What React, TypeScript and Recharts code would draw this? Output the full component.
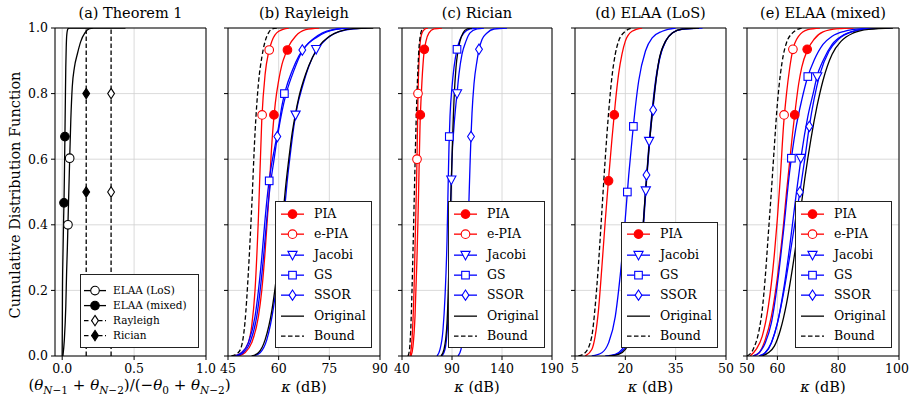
import { ComposedChart, Line, XAxis, YAxis, CartesianGrid, ReferenceLine } from 'recharts';

const FONT = '"DejaVu Serif", "Liberation Serif", serif';
const RED = '#ff0000';
const BLUE = '#0000ff';
const BLACK = '#000000';

// shared y axis (CDF)
const cdfTicks = [0, 0.2, 0.4, 0.6, 0.8, 1.0];

// (a) Theorem 1 — ratio on x, CDF on y
const thmTicks = [0, 0.5, 1.0];
const thmLoS = [[0.005, 0], [0.015, 0.05], [0.025, 0.15], [0.031, 0.26], [0.036, 0.33], [0.04, 0.4], [0.046, 0.5], [0.052, 0.6], [0.06, 0.72], [0.07, 0.82], [0.085, 0.88], [0.105, 0.92], [0.13, 0.96], [0.158, 0.985], [0.19, 0.998], [0.22, 1], [0.44, 1]];
const thmLoSMarks = [[0.04, 0.4], [0.052, 0.603]];
const thmMixed = [[0, 0], [0.002, 0.2], [0.005, 0.3], [0.01, 0.42], [0.0125, 0.467], [0.016, 0.57], [0.019, 0.67], [0.022, 0.78], [0.025, 0.88], [0.028, 0.94], [0.032, 0.98], [0.04, 0.997], [0.05, 1], [0.2, 1]];
const thmMixedMarks = [[0.0125, 0.467], [0.019, 0.669]];
const thmRayleigh = [[0.34, 0], [0.34, 1]];
const thmRayleighMarks = [[0.34, 0.5], [0.34, 0.8]];
const thmRician = [[0.167, 0], [0.167, 1]];
const thmRicianMarks = [[0.167, 0.5], [0.167, 0.8]];

// (b) Rayleigh
const rayTicks = [45, 60, 75, 90];
const rayPIA = [[48, 0], [50, 0.01], [52, 0.04], [54, 0.12], [55, 0.2], [56, 0.32], [57, 0.47], [58, 0.65], [59, 0.77], [60, 0.84], [61, 0.89], [62, 0.92], [63, 0.945], [65, 0.975], [68, 0.995], [72, 1]];
const rayEPIA = [[47, 0], [49, 0.01], [51, 0.04], [52, 0.09], [53, 0.2], [54, 0.42], [55, 0.72], [56, 0.86], [57, 0.925], [58, 0.96], [60, 0.99], [63, 1]];
const rayJacobi = [[52.5, 0], [54.5, 0.01], [56.5, 0.05], [58.5, 0.15], [60.5, 0.32], [61.5, 0.42], [62.5, 0.53], [63.5, 0.62], [64.5, 0.7], [65.5, 0.76], [67, 0.82], [69, 0.885], [71, 0.93], [73, 0.955], [76, 0.98], [80, 0.994], [86, 1]];
const rayGS = [[47, 0], [49, 0.01], [51, 0.04], [53, 0.12], [55, 0.3], [56, 0.42], [57, 0.52], [58, 0.59], [59, 0.645], [60, 0.7], [61, 0.765], [62, 0.81], [64, 0.87], [66, 0.915], [68, 0.945], [70, 0.965], [73, 0.985], [76, 0.995], [80, 1]];
const raySSOR = [[47.5, 0], [49.5, 0.01], [51.5, 0.04], [53.5, 0.12], [55.5, 0.3], [56.5, 0.42], [57.5, 0.52], [58.5, 0.59], [59.5, 0.66], [60.5, 0.72], [61.5, 0.77], [62.5, 0.81], [64.5, 0.87], [67, 0.93], [69, 0.955], [71, 0.97], [74, 0.987], [77, 0.996], [81, 1]];
const rayOrig = [[52, 0], [54, 0.01], [56, 0.05], [58, 0.14], [60, 0.3], [61, 0.4], [62, 0.51], [63, 0.6], [64, 0.68], [65, 0.74], [66, 0.79], [68, 0.86], [70, 0.91], [72, 0.945], [75, 0.975], [78, 0.99], [82, 0.998], [88, 1]];
const rayBound = [[46, 0], [48, 0.01], [49, 0.03], [50, 0.1], [51, 0.25], [52, 0.45], [53, 0.68], [54, 0.83], [55, 0.91], [56, 0.96], [57, 0.985], [58, 0.997], [60, 1]];
const rayPIAMarks = [[58.6, 0.735], [62.6, 0.933]];
const rayEPIAMarks = [[55.1, 0.735], [57.2, 0.933]];
const rayJacobiMarks = [[65.0, 0.735], [71.1, 0.935]];
const rayGSMarks = [[57.2, 0.534], [61.7, 0.8]];
const raySSORMarks = [[59.6, 0.669], [67.0, 0.933]];

// (c) Rician
const ricTicks = [40, 90, 140, 190];
const ricPIA = [[49, 0], [51, 0.03], [53, 0.12], [55, 0.3], [56, 0.42], [57, 0.56], [58, 0.7], [59, 0.78], [60, 0.84], [62, 0.925], [64, 0.96], [67, 0.985], [72, 0.997], [80, 1]];
const ricEPIA = [[48, 0], [50, 0.05], [52, 0.2], [53, 0.33], [54, 0.46], [55, 0.6], [56, 0.8], [57, 0.9], [58, 0.95], [60, 0.985], [63, 0.997], [66, 1]];
const ricJacobi = [[80, 0], [83, 0.02], [86, 0.12], [88, 0.35], [89, 0.5], [90, 0.6], [92, 0.7], [94, 0.77], [95, 0.8], [97, 0.86], [100, 0.92], [104, 0.96], [108, 0.985], [115, 0.997], [122, 1]];
const ricGS = [[75, 0], [78, 0.02], [81, 0.08], [83, 0.18], [85, 0.35], [86, 0.5], [87, 0.64], [88, 0.73], [90, 0.82], [92, 0.88], [95, 0.935], [98, 0.965], [102, 0.985], [108, 0.997], [115, 1]];
const ricSSOR = [[96, 0], [99, 0.02], [102, 0.1], [104, 0.22], [106, 0.38], [108, 0.58], [109, 0.67], [110, 0.74], [112, 0.83], [115, 0.9], [117, 0.935], [120, 0.965], [125, 0.985], [132, 0.997], [145, 1]];
const ricOrig = [[79, 0], [82, 0.02], [85, 0.1], [87, 0.28], [88, 0.4], [89, 0.5], [90, 0.6], [91, 0.7], [92, 0.78], [94, 0.88], [96, 0.93], [98, 0.96], [101, 0.985], [105, 0.997], [110, 1]];
const ricBound = [[46, 0], [47.5, 0.02], [49, 0.1], [50, 0.2], [51, 0.32], [52, 0.45], [53, 0.58], [54, 0.7], [55, 0.8], [56, 0.88], [57, 0.94], [58, 0.97], [60, 0.995], [62, 1]];
const ricPIAMarks = [[58.3, 0.735], [62.3, 0.935]];
const ricEPIAMarks = [[55.0, 0.6], [56.0, 0.8]];
const ricJacobiMarks = [[89.3, 0.537], [95.0, 0.8]];
const ricGSMarks = [[87.3, 0.669], [95.0, 0.935]];
const ricSSORMarks = [[109.0, 0.669], [117.0, 0.935]];

// (d) ELAA (LoS)
const losTicks = [5, 20, 35, 50];
const losPIA = [[8, 0], [10, 0.02], [11, 0.06], [12, 0.14], [13, 0.27], [14, 0.41], [15, 0.54], [16, 0.66], [17, 0.77], [18, 0.86], [19, 0.92], [20, 0.96], [22, 0.99], [25, 1]];
const losJacobi = [[14, 0], [17, 0.005], [19, 0.02], [21, 0.06], [23, 0.14], [24, 0.23], [25, 0.36], [26, 0.5], [27, 0.64], [28, 0.75], [29, 0.84], [30, 0.9], [32, 0.96], [34, 0.985], [37, 0.997], [42, 1]];
const losGS = [[10, 0], [13, 0.01], [15, 0.04], [17, 0.12], [18, 0.2], [19, 0.3], [20, 0.42], [21, 0.55], [22, 0.66], [23, 0.76], [24, 0.84], [26, 0.93], [28, 0.97], [31, 0.99], [35, 1]];
const losSSOR = [[14.5, 0], [17.5, 0.005], [19.5, 0.02], [21.5, 0.06], [23.3, 0.15], [24.3, 0.25], [25.3, 0.38], [26.3, 0.53], [27.3, 0.66], [28.3, 0.76], [29.3, 0.85], [30.3, 0.91], [32.3, 0.965], [34.3, 0.987], [37.3, 0.997], [43, 1]];
const losOrig = [[15, 0], [18, 0.005], [20, 0.02], [22, 0.07], [23, 0.13], [24, 0.22], [25, 0.35], [26, 0.5], [27, 0.63], [28, 0.74], [29, 0.83], [30, 0.9], [32, 0.96], [34, 0.985], [37, 0.997], [42, 1]];
const losBound = [[6, 0], [8, 0.01], [10, 0.06], [11, 0.15], [12, 0.28], [13, 0.44], [14, 0.6], [15, 0.74], [16, 0.85], [17, 0.92], [18, 0.96], [20, 0.99], [22, 1]];
const losPIAMarks = [[15.0, 0.534], [16.7, 0.735]];
const losJacobiMarks = [[26.1, 0.504], [27.1, 0.655]];
const losGSMarks = [[20.6, 0.5], [22.4, 0.7]];
const losSSORMarks = [[26.3, 0.552], [28.3, 0.75]];

// (e) ELAA (mixed)
const mixTicks = [50, 60, 80, 100];
const mixPIA = [[52, 0], [54, 0.01], [56, 0.05], [58, 0.12], [60, 0.24], [62, 0.4], [63, 0.5], [64, 0.59], [65, 0.68], [66, 0.76], [67, 0.83], [68, 0.88], [70, 0.935], [72, 0.965], [75, 0.988], [80, 0.998], [85, 1]];
const mixEPIA = [[51, 0], [53, 0.02], [55, 0.06], [57, 0.15], [58, 0.22], [59, 0.31], [60, 0.42], [61, 0.55], [62, 0.7], [63, 0.8], [64, 0.875], [65, 0.93], [67, 0.975], [70, 0.995], [74, 1]];
const mixJacobi = [[54, 0], [56, 0.01], [58, 0.04], [60, 0.1], [62, 0.2], [64, 0.33], [66, 0.48], [67, 0.55], [68, 0.62], [70, 0.73], [72, 0.81], [73, 0.852], [75, 0.9], [78, 0.95], [82, 0.98], [86, 0.993], [92, 1]];
const mixGS = [[52, 0], [54, 0.01], [56, 0.04], [58, 0.1], [60, 0.22], [62, 0.38], [64, 0.56], [65, 0.63], [66, 0.69], [68, 0.78], [70, 0.852], [72, 0.9], [75, 0.95], [78, 0.975], [82, 0.99], [88, 0.998], [95, 1]];
const mixSSOR = [[54, 0], [56, 0.01], [58, 0.04], [60, 0.1], [62, 0.19], [64, 0.3], [66, 0.42], [67.4, 0.5], [69, 0.6], [70.5, 0.7], [72, 0.78], [74, 0.86], [77, 0.93], [80, 0.965], [85, 0.99], [90, 0.998], [97, 1]];
const mixOrig = [[55, 0], [57, 0.01], [59, 0.03], [61, 0.08], [63, 0.16], [65, 0.27], [67, 0.4], [69, 0.54], [71, 0.66], [73, 0.76], [75, 0.84], [78, 0.92], [81, 0.96], [85, 0.985], [90, 0.996], [98, 1]];
const mixBound = [[50, 0], [52, 0.02], [54, 0.08], [55, 0.14], [56, 0.24], [57, 0.37], [58, 0.5], [59, 0.64], [60, 0.77], [61, 0.86], [62, 0.92], [63, 0.955], [65, 0.985], [68, 1]];
const mixPIAMarks = [[65.7, 0.735], [69.8, 0.935]];
const mixEPIAMarks = [[62.2, 0.735], [65.1, 0.935]];
const mixJacobiMarks = [[67.7, 0.603], [73.1, 0.852]];
const mixGSMarks = [[64.6, 0.603], [70.0, 0.852]];
const mixSSORMarks = [[67.4, 0.5], [70.5, 0.7]];

const methodNames = ['PIA', 'e-PIA', 'Jacobi', 'GS', 'SSOR', 'Original', 'Bound'];
const theoremNames = ['ELAA (LoS)', 'ELAA (mixed)', 'Rayleigh', 'Rician'];

type Shape = 'circle' | 'tri' | 'square' | 'diamond';
type Curve = { data: number[][]; color: string; dash?: boolean; linear?: boolean };
type MarkSet = { data: number[][]; color: string; shape: Shape; filled: boolean };
type LegendItem = { label: string; color: string; dash?: boolean; shape?: Shape; filled?: boolean };

const pts = (arr: number[][]) => arr.map(([x, y]) => ({ x, y }));

function Marker({ cx, cy, shape, color, filled }: { cx: number; cy: number; shape: Shape; color: string; filled: boolean }) {
  const fill = filled ? color : '#ffffff';
  const common = { fill, stroke: color, strokeWidth: 1.1 };
  if (shape === 'circle') return <circle cx={cx} cy={cy} r={4.3} {...common} />;
  if (shape === 'tri')
    return <polygon points={`${cx - 4.6},${cy - 3.8} ${cx + 4.6},${cy - 3.8} ${cx},${cy + 4.8}`} {...common} />;
  if (shape === 'square') return <rect x={cx - 3.8} y={cy - 3.8} width={7.6} height={7.6} {...common} />;
  return <polygon points={`${cx},${cy - 5.2} ${cx + 3.4},${cy} ${cx},${cy + 5.2} ${cx - 3.4},${cy}`} {...common} />;
}

const PLOT_TOP = 28;
const PLOT_H = 328;
const TICK_FS = 12.5;
const LABEL_FS = 14.5;

function ThetaLabel({ x, y }: { x: number; y: number }) {
  const s = 10.5;
  return (
    <text x={x} y={y} textAnchor="middle" fontSize={15} fontFamily={FONT} fill="#000">
      (<tspan fontStyle="italic">θ</tspan>
      <tspan dy={4} fontSize={s}><tspan fontStyle="italic">N</tspan>−1</tspan>
      <tspan dy={-4}>{' + '}</tspan><tspan fontStyle="italic">θ</tspan>
      <tspan dy={4} fontSize={s}><tspan fontStyle="italic">N</tspan>−2</tspan>
      <tspan dy={-4}>)/(−</tspan><tspan fontStyle="italic">θ</tspan>
      <tspan dy={4} fontSize={s}>0</tspan>
      <tspan dy={-4}>{' + '}</tspan><tspan fontStyle="italic">θ</tspan>
      <tspan dy={4} fontSize={s}><tspan fontStyle="italic">N</tspan>−2</tspan>
      <tspan dy={-4}>)</tspan>
    </text>
  );
}

type PanelDef = {
  plotLeft: number;
  plotW: number;
  axisW: number;
  rightPad: number;
  domain: [number, number];
  ticks: number[];
  fmt: (v: number) => string;
  title: string;
  xlabel: 'kappa' | 'theta';
  showY: boolean;
  lastTickShift?: number;
  curves: Curve[];
  marks: MarkSet[];
};

function Panel({ p }: { p: PanelDef }) {
  const width = p.axisW + p.plotW + p.rightPad;
  const cx = p.axisW + p.plotW / 2;
  const Texts = () => (
    <g>
      <text x={cx} y={18} textAnchor="middle" fontSize={LABEL_FS} fontFamily={FONT} fill="#000">{p.title}</text>
      {p.xlabel === 'kappa' ? (
        <text x={cx} y={392} textAnchor="middle" fontSize={LABEL_FS} fontFamily={FONT} fill="#000">
          <tspan fontStyle="italic">κ</tspan> (dB)
        </text>
      ) : (
        <ThetaLabel x={cx - 1} y={390} />
      )}
      {p.showY && (
        <text transform={`translate(20, ${PLOT_TOP + PLOT_H / 2 + 3}) rotate(-90)`} textAnchor="middle" fontSize={LABEL_FS} fontFamily={FONT} fill="#000">
          Cumulative Distribution Function
        </text>
      )}
    </g>
  );
  const XTick = (t: any) => {
    const shift = t.payload.value === p.domain[1] && p.lastTickShift ? p.lastTickShift : 0;
    return (
      <text x={t.x - shift} y={t.y} dy="0.71em" textAnchor="middle" fontSize={TICK_FS} fontFamily={FONT} fill="#000">
        {p.fmt(t.payload.value)}
      </text>
    );
  };
  return (
    <div style={{ position: 'absolute', left: p.plotLeft - p.axisW, top: 0 }}>
      <ComposedChart width={width} height={398} margin={{ top: PLOT_TOP, right: p.rightPad, left: 0, bottom: 0 }}>
        <CartesianGrid stroke="#d0d0d0" strokeWidth={0.8} />
        <XAxis
          type="number"
          dataKey="x"
          domain={p.domain}
          ticks={p.ticks}
          interval={0}
          allowDataOverflow
          height={42}
          tickSize={4}
          tickMargin={4}
          stroke="#000"
          tick={XTick}
          label={{ content: Texts }}
        />
        <YAxis
          type="number"
          dataKey="y"
          domain={[0, 1]}
          ticks={cdfTicks}
          interval={0}
          allowDataOverflow
          width={p.axisW}
          tickSize={4}
          tickMargin={3}
          stroke="#000"
          tick={{ fill: '#000', fontSize: TICK_FS, fontFamily: FONT }}
          tickFormatter={(v: number) => (p.showY ? v.toFixed(1) : '')}
        />
        <ReferenceLine y={1} stroke="#000" />
        <ReferenceLine x={p.domain[1]} stroke="#000" />
        {p.curves.map((c, i) => (
          <Line
            key={`c${i}`}
            data={pts(c.data)}
            dataKey="y"
            type={c.linear ? 'linear' : 'monotone'}
            stroke={c.color}
            strokeWidth={1.3}
            strokeDasharray={c.dash ? '4.5 2.5' : undefined}
            dot={false}
            activeDot={false}
            isAnimationActive={false}
          />
        ))}
        {p.marks.map((m, i) => (
          <Line
            key={`m${i}`}
            data={pts(m.data)}
            dataKey="y"
            stroke="none"
            activeDot={false}
            isAnimationActive={false}
            dot={(d: any) => <Marker key={`mk${i}-${d.index}`} cx={d.cx} cy={d.cy} shape={m.shape} color={m.color} filled={m.filled} />}
          />
        ))}
      </ComposedChart>
    </div>
  );
}

function LegendBox({ x, y, w, h, items, rowH, first, fontSize, sampleX, sampleW, textX }: {
  x: number; y: number; w: number; h: number; items: LegendItem[]; rowH: number; first: number;
  fontSize: number; sampleX: number; sampleW: number; textX: number;
}) {
  return (
    <div style={{ position: 'absolute', left: x, top: y, width: w, height: h, boxSizing: 'border-box', border: '1px solid #222', background: '#fff' }}>
      {items.map((it, i) => {
        const cy = first + i * rowH;
        return (
          <div key={it.label} style={{ position: 'absolute', left: 0, top: cy - rowH / 2, height: rowH, width: w - 2 }}>
            <svg width={sampleW + 10} height={rowH} style={{ position: 'absolute', left: sampleX - 5, top: 0 }}>
              <line x1={5} x2={5 + sampleW} y1={rowH / 2} y2={rowH / 2} stroke={it.color} strokeWidth={1.3} strokeDasharray={it.dash ? '4.5 2.5' : undefined} />
              {it.shape && <Marker cx={5 + sampleW / 2} cy={rowH / 2} shape={it.shape} color={it.color} filled={!!it.filled} />}
            </svg>
            <span style={{ position: 'absolute', left: textX, top: 0, lineHeight: `${rowH}px`, fontSize, fontFamily: FONT, color: '#000', whiteSpace: 'nowrap' }}>
              {it.label}
            </span>
          </div>
        );
      })}
    </div>
  );
}

const methodLegend: LegendItem[] = [
  { label: methodNames[0], color: RED, shape: 'circle', filled: true },
  { label: methodNames[1], color: RED, shape: 'circle', filled: false },
  { label: methodNames[2], color: BLUE, shape: 'tri', filled: false },
  { label: methodNames[3], color: BLUE, shape: 'square', filled: false },
  { label: methodNames[4], color: BLUE, shape: 'diamond', filled: false },
  { label: methodNames[5], color: BLACK },
  { label: methodNames[6], color: BLACK, dash: true },
];
const losLegend = methodLegend.filter((it) => it.label !== 'e-PIA');
const theoremLegend: LegendItem[] = [
  { label: theoremNames[0], color: BLACK, shape: 'circle', filled: false },
  { label: theoremNames[1], color: BLACK, shape: 'circle', filled: true },
  { label: theoremNames[2], color: BLACK, dash: true, shape: 'diamond', filled: false },
  { label: theoremNames[3], color: BLACK, dash: true, shape: 'diamond', filled: true },
];

const intFmt = (v: number) => String(v);
const oneFmt = (v: number) => v.toFixed(1);

const methodCurves = (pia: number[][], epia: number[][] | null, jac: number[][], gs: number[][], ssor: number[][], orig: number[][], bound: number[][]): Curve[] => [
  { data: pia, color: RED },
  ...(epia ? [{ data: epia, color: RED }] : []),
  { data: jac, color: BLUE },
  { data: gs, color: BLUE },
  { data: ssor, color: BLUE },
  { data: orig, color: BLACK },
  { data: bound, color: BLACK, dash: true },
];
const methodMarks = (pia: number[][], epia: number[][] | null, jac: number[][], gs: number[][], ssor: number[][]): MarkSet[] => [
  { data: pia, color: RED, shape: 'circle', filled: true },
  ...(epia ? [{ data: epia, color: RED, shape: 'circle' as Shape, filled: false }] : []),
  { data: jac, color: BLUE, shape: 'tri', filled: false },
  { data: gs, color: BLUE, shape: 'square', filled: false },
  { data: ssor, color: BLUE, shape: 'diamond', filled: false },
];

const panels: PanelDef[] = [
  {
    plotLeft: 55, plotW: 151, axisW: 55, rightPad: 26, domain: [-0.05, 1.0], ticks: thmTicks, fmt: oneFmt,
    title: '(a) Theorem 1', xlabel: 'theta', showY: true,
    curves: [
      { data: thmLoS, color: BLACK },
      { data: thmMixed, color: BLACK },
      { data: thmRayleigh, color: BLACK, dash: true, linear: true },
      { data: thmRician, color: BLACK, dash: true, linear: true },
    ],
    marks: [
      { data: thmLoSMarks, color: BLACK, shape: 'circle', filled: false },
      { data: thmMixedMarks, color: BLACK, shape: 'circle', filled: true },
      { data: thmRayleighMarks, color: BLACK, shape: 'diamond', filled: false },
      { data: thmRicianMarks, color: BLACK, shape: 'diamond', filled: true },
    ],
  },
  {
    plotLeft: 228, plotW: 152, axisW: 12, rightPad: 12, domain: [45, 90], ticks: rayTicks, fmt: intFmt,
    title: '(b) Rayleigh', xlabel: 'kappa', showY: false,
    curves: methodCurves(rayPIA, rayEPIA, rayJacobi, rayGS, raySSOR, rayOrig, rayBound),
    marks: methodMarks(rayPIAMarks, rayEPIAMarks, rayJacobiMarks, rayGSMarks, raySSORMarks),
  },
  {
    plotLeft: 402, plotW: 150, axisW: 12, rightPad: 12, domain: [40, 190], ticks: ricTicks, fmt: intFmt,
    title: '(c) Rician', xlabel: 'kappa', showY: false,
    curves: methodCurves(ricPIA, ricEPIA, ricJacobi, ricGS, ricSSOR, ricOrig, ricBound),
    marks: methodMarks(ricPIAMarks, ricEPIAMarks, ricJacobiMarks, ricGSMarks, ricSSORMarks),
  },
  {
    plotLeft: 575, plotW: 151, axisW: 12, rightPad: 12, domain: [5, 50], ticks: losTicks, fmt: intFmt,
    title: '(d) ELAA (LoS)', xlabel: 'kappa', showY: false,
    curves: methodCurves(losPIA, null, losJacobi, losGS, losSSOR, losOrig, losBound),
    marks: methodMarks(losPIAMarks, null, losJacobiMarks, losGSMarks, losSSORMarks),
  },
  {
    plotLeft: 747, plotW: 152, axisW: 12, rightPad: 10, domain: [50, 100], ticks: mixTicks, fmt: intFmt,
    title: '(e) ELAA (mixed)', xlabel: 'kappa', showY: false, lastTickShift: 2,
    curves: methodCurves(mixPIA, mixEPIA, mixJacobi, mixGS, mixSSOR, mixOrig, mixBound),
    marks: methodMarks(mixPIAMarks, mixEPIAMarks, mixJacobiMarks, mixGSMarks, mixSSORMarks),
  },
];

export default function App() {
  const big = { rowH: 20.3, first: 12.3, fontSize: 12.5, sampleX: 5, sampleW: 23, textX: 38 };
  return (
    <div style={{ position: 'relative', width: 909, height: 398, background: '#fff', overflow: 'hidden' }}>
      <style>{'body{margin:0}'}</style>
      {panels.map((p) => (
        <Panel key={p.title} p={p} />
      ))}
      <LegendBox x={80} y={274} w={119} h={74} items={theoremLegend} rowH={15.2} first={15.3} fontSize={10.5} sampleX={3} sampleW={22} textX={32} />
      <LegendBox x={275} y={201} w={97} h={147} items={methodLegend} {...big} />
      <LegendBox x={448} y={201} w={97} h={147} items={methodLegend} {...big} />
      <LegendBox x={621} y={222} w={97} h={126} items={losLegend} {...big} first={11.6} />
      <LegendBox x={795} y={201} w={97} h={147} items={methodLegend} {...big} />
    </div>
  );
}
